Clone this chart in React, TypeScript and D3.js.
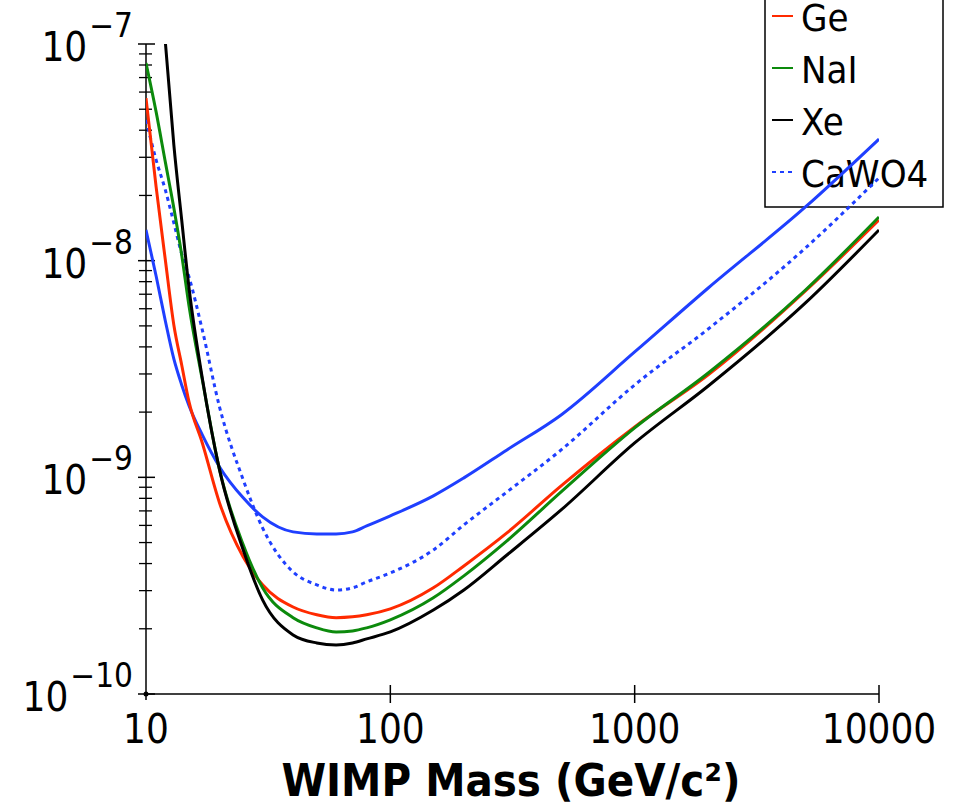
import React from 'react'
import * as d3 from 'd3'

// WIMP mass grid (GeV/c^2) and cross-section limits
const masses = [10, 11, 12, 13, 14, 15, 17, 20, 25, 30, 40, 50, 60, 70, 80, 100, 150, 200, 300, 500, 1000, 2000, 5000, 10000]
const massesXe = [12, 13, 14, 15, 17, 20, 25, 30, 40, 50, 60, 70, 80, 100, 150, 200, 300, 500, 1000, 2000, 5000, 10000]

const geValues = [5.63e-8, 2.19e-8, 1.007e-8, 5.05e-9, 3.3e-9, 2.23e-9, 1.441e-9, 7.62e-10, 4.29e-10, 3.19e-10, 2.52e-10, 2.32e-10, 2.25e-10, 2.27e-10, 2.32e-10, 2.47e-10, 3.09e-10, 3.9e-10, 5.54e-10, 9.13e-10, 1.708e-9, 2.97e-9, 7.25e-9, 1.541e-8]
const naiValues = [8.17e-8, 4.86e-8, 2.85e-8, 1.751e-8, 1.063e-8, 6.18e-9, 2.82e-9, 1.082e-9, 4.88e-10, 3.09e-10, 2.25e-10, 2.02e-10, 1.934e-10, 1.955e-10, 2.02e-10, 2.2e-10, 2.78e-10, 3.51e-10, 5.09e-10, 8.56e-10, 1.69e-9, 3.03e-9, 7.32e-9, 1.591e-8]
const xeValues = [1.02e-7, 3.42e-8, 1.541e-8, 7.48e-9, 2.87e-9, 1.082e-9, 4.62e-10, 2.72e-10, 1.874e-10, 1.721e-10, 1.685e-10, 1.721e-10, 1.796e-10, 1.934e-10, 2.44e-10, 3.02e-10, 4.38e-10, 7.07e-10, 1.441e-9, 2.64e-9, 6.38e-9, 1.386e-8]
const cawo4Values = [4.46e-8, 2.92e-8, 2.12e-8, 1.493e-8, 1.074e-8, 8.41e-9, 4.79e-9, 2.11e-9, 9.73e-10, 5.84e-10, 3.66e-10, 3.19e-10, 3.02e-10, 3.09e-10, 3.29e-10, 3.62e-10, 4.62e-10, 6.03e-10, 8.56e-10, 1.338e-9, 2.67e-9, 4.84e-9, 1.144e-8, 2.41e-8]
// solid blue curve (its legend entry sits above the visible area)
const blueSolidValues = [1.386e-8, 8.5e-9, 5.27e-9, 3.52e-9, 2.67e-9, 2.14e-9, 1.569e-9, 1.117e-9, 8.04e-10, 6.57e-10, 5.6e-10, 5.48e-10, 5.48e-10, 5.6e-10, 5.97e-10, 6.64e-10, 8.21e-10, 9.94e-10, 1.338e-9, 1.941e-9, 3.79e-9, 7.48e-9, 1.769e-8, 3.64e-8]

const xTicks = [10, 100, 1000, 10000]
const yMajor = [1e-7, 1e-8, 1e-9, 1e-10]
const yExponents = ['−7', '−8', '−9', '−10']

const FONT = "'DejaVu Sans Condensed', 'DejaVu Sans', sans-serif"

const BLUE = '#1f3fff'
const series = [
  { name: 'blue', x: masses, y: blueSolidValues, color: BLUE, dash: null },
  { name: 'CaWO4', x: masses, y: cawo4Values, color: BLUE, dash: '4 4' },
  { name: 'Ge', x: masses, y: geValues, color: '#ff2a00', dash: null },
  { name: 'NaI', x: masses, y: naiValues, color: '#0c8a0c', dash: null },
  { name: 'Xe', x: massesXe, y: xeValues, color: '#000000', dash: null },
]
const legendItems = ['Ge', 'NaI', 'Xe', 'CaWO4']

export default function App() {
  const width = 954
  const height = 807
  const left = 146, right = 879, top = 44, bottom = 694

  const xScale = d3.scaleLog().domain([10, 10000]).range([left, right])
  const yScale = d3.scaleLog().domain([1e-10, 1e-7]).range([bottom, top])

  // minor ticks 2..9 of each decade
  const yMinor: number[] = []
  for (let e = -10; e < -7; e++) {
    for (let k = 2; k <= 9; k++) yMinor.push(k * Math.pow(10, e))
  }

  const line = d3.line<[number, number]>()
    .x(d => xScale(d[0]))
    .y(d => yScale(d[1]))
    .curve(d3.curveMonotoneX)

  return (
    <svg width={width} height={height} style={{ position: 'absolute', left: 0, top: 0, background: '#fff' }}
      fontFamily={FONT} fontStretch="condensed">
      <defs>
        <clipPath id="plotClip">
          <rect x={left} y={top} width={right - left} height={bottom - top} />
        </clipPath>
      </defs>

      {/* y axis */}
      <line x1={left} x2={left} y1={top} y2={bottom + 6} stroke="#000" strokeWidth={1.5} />
      {yMinor.map(v => (
        <line key={'m' + v} x1={left - 7} x2={left + 6} y1={yScale(v)} y2={yScale(v)} stroke="#000" strokeWidth={1.3} />
      ))}
      {yMajor.map((v, i) => (
        <g key={'M' + v}>
          <line x1={left - 8} x2={left + 9} y1={yScale(v)} y2={yScale(v)} stroke="#000" strokeWidth={1.5} />
          <text x={133} y={yScale(v) + 17} textAnchor="end" fontSize={40} fill="#000">
            10<tspan fontSize={33} dx={2} dy={-24}>{yExponents[i]}</tspan>
          </text>
        </g>
      ))}

      {/* x axis */}
      <line x1={left} x2={right} y1={bottom} y2={bottom} stroke="#000" strokeWidth={1.5} />
      <circle cx={left} cy={bottom} r={2.5} fill="#000" />
      {xTicks.map(v => (
        <g key={'x' + v}>
          {v > 10 && <line x1={xScale(v)} x2={xScale(v)} y1={bottom - 9} y2={bottom + 9} stroke="#000" strokeWidth={1.5} />}
          <text x={xScale(v)} y={743} textAnchor="middle" fontSize={40} fill="#000">{v}</text>
        </g>
      ))}
      <text x={511} y={796} textAnchor="middle" fontSize={45} fontWeight="bold" fill="#000">WIMP Mass (GeV/c²)</text>

      {/* legend */}
      <rect x={765} y={-10} width={178} height={217} fill="none" stroke="#000" strokeWidth={1.5} />
      {legendItems.map((name, i) => {
        const s = series.find(d => d.name === name)!
        const base = 31 + i * 52
        return (
          <g key={name}>
            <line x1={772} x2={793} y1={base - 15} y2={base - 15} stroke={s.color} strokeWidth={2}
              strokeDasharray={s.dash ? '4 4' : undefined} />
            <text x={801} y={base} fontSize={38} fill="#000">{name}</text>
          </g>
        )
      })}

      {/* curves */}
      <g clipPath="url(#plotClip)">
        {series.map(s => (
          <path key={s.name}
            d={line(s.x.map((m, i) => [m, s.y[i]] as [number, number])) || ''}
            fill="none" stroke={s.color} strokeWidth={3}
            strokeDasharray={s.dash || undefined} />
        ))}
      </g>
    </svg>
  )
}
